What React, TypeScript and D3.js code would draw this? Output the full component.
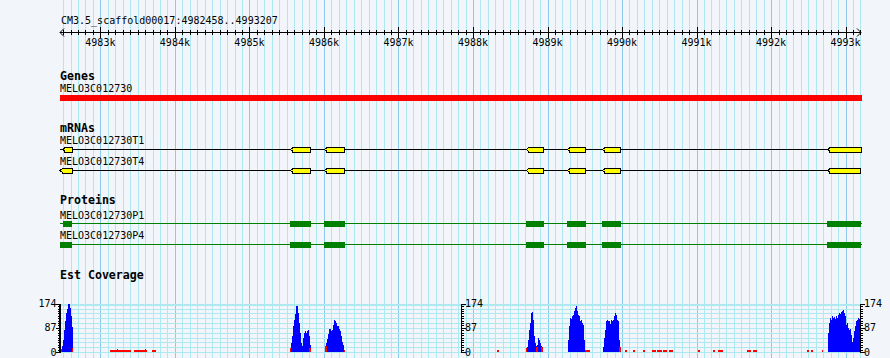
import React from "react";
import * as d3 from "d3";

// ---------- data ----------
const REGION_START = 4982458;
const REGION_END = 4993207;
const TITLE = "CM3.5_scaffold00017:4982458..4993207";
const GENE_NAME = "MELO3C012730";

// transcripts: exon intervals (bp)
const T1_NAME = "MELO3C012730T1";
const T1_EXONS: [number, number][] = [
  [4982498, 4982625], [4985550, 4985822], [4986008, 4986282],
  [4988714, 4988949], [4989270, 4989512], [4989740, 4989982], [4992762, 4993207],
];
const T4_NAME = "MELO3C012730T4";
const T4_EXONS: [number, number][] = [
  [4982458, 4982625], [4985550, 4985822], [4986008, 4986282],
  [4988714, 4988949], [4989270, 4989512], [4989740, 4989982], [4992762, 4993195],
];
// proteins: CDS intervals (bp)
const P1_NAME = "MELO3C012730P1";
const P1_CDS: [number, number][] = [
  [4982498, 4982625], [4985545, 4985822], [4986001, 4986282],
  [4988707, 4988949], [4989261, 4989512], [4989731, 4989982], [4992755, 4993207],
];
const P4_NAME = "MELO3C012730P4";
const P4_CDS: [number, number][] = [
  [4982458, 4982625], [4985545, 4985822], [4986001, 4986282],
  [4988707, 4988949], [4989261, 4989512], [4989731, 4989982], [4992755, 4993207],
];

// EST coverage (blue): bin width in bp, peak start and per-bin values
const COV_MAX = 174;
const COV_BIN = 13.42;
const PEAK_STARTS = [4982485, 4985554, 4986014, 4988725, 4989271, 4989741, 4992760];
const PEAK_VALUES: number[][] = [
  [20, 45, 80, 110, 140, 155, 174, 174, 160, 130, 90],
  [34, 56, 92, 116, 138, 167, 167, 140, 104, 68, 31, 22, 50, 70, 74, 70, 74, 80, 56, 25],
  [10, 31, 46, 65, 82, 82, 77, 80, 98, 116, 110, 104, 94, 92, 82, 74, 56, 37, 25, 7],
  [17, 43, 80, 104, 140, 144, 116, 56, 31, 20, 25, 50, 43, 31, 20, 15],
  [43, 92, 122, 118, 128, 134, 146, 158, 164, 146, 134, 128, 110, 116, 104, 98, 43, 7],
  [17, 50, 80, 110, 116, 110, 112, 100, 116, 110, 116, 128, 140, 134, 116, 110, 43],
  [68, 104, 122, 116, 128, 122, 126, 118, 128, 122, 134, 140, 138, 143, 146, 150, 140, 128,
    98, 104, 86, 80, 82, 62, 37, 50, 74, 92, 110, 116, 122, 118, 92],
];
// secondary coverage (red): [start, end, value]
const RED_SEGMENTS: [number, number, number][] = [
  [4982471, 4982485, 10], [4982619, 4982632, 14],
  [4983129, 4983223, 8], [4983223, 4983236, 12], [4983236, 4983411, 8],
  [4983451, 4983599, 8], [4983599, 4983612, 12], [4983612, 4983625, 8],
  [4983693, 4983746, 8],
  [4985544, 4985558, 14], [4985799, 4985826, 14],
  [4986014, 4986041, 20], [4986269, 4986282, 9],
  [4988322, 4988349, 8],
  [4988711, 4988725, 14], [4988845, 4988872, 18], [4988912, 4988939, 18],
  [4989503, 4989570, 8], [4989959, 4989986, 18],
  [4990040, 4990067, 8], [4990148, 4990174, 8], [4990282, 4990308, 8],
  [4990402, 4990456, 9], [4990469, 4990536, 9], [4990550, 4990603, 9], [4990630, 4990684, 8],
  [4991019, 4991046, 8], [4991221, 4991248, 8], [4991288, 4991355, 8],
  [4991677, 4991731, 8], [4991757, 4991811, 8],
  [4992482, 4992509, 8], [4992536, 4992563, 8], [4992683, 4992697, 8],
];
const COV_TICK_LABELS = [0, 87, 174];

// ---------- styles ----------
const W = 890;
const H = 358;
const BG = "#F2F6FA";
const GRID_MINOR = "#AEE9F2";
const GRID_MAJOR = "#8DCAEA";
const MONO = "'DejaVu Sans Mono', 'Liberation Mono', monospace";

export default function App() {
  const x = d3.scaleLinear().domain([REGION_START, REGION_END]).range([60, 861]);
  const covTop = 303.7;
  const covBase = 352;
  const y = d3.scaleLinear().domain([0, COV_MAX]).range([covBase, covTop]);

  const minorTicks = d3.range(Math.ceil(REGION_START / 100) * 100, REGION_END + 1, 100);
  const majorTicks = minorTicks.filter((t) => t % 1000 === 0);

  const exonPoly = (s: number, e: number, yc: number) => {
    const x0 = x(s), x1 = x(e);
    const h = 2.5;
    return `M${x0},${yc} L${x0 + 2},${yc - h + 1} L${x0 + 2},${yc - h} L${x1},${yc - h} L${x1},${yc + h} L${x0 + 2},${yc + h} L${x0 + 2},${yc + h - 1} Z`;
  };

  const area = d3
    .area<[number, number]>()
    .x((d) => x(d[0]))
    .y0(covBase)
    .y1((d) => y(d[1]))
    .curve(d3.curveStepAfter);

  const peakPaths = PEAK_STARTS.map((s, i) => {
    const vals = PEAK_VALUES[i];
    const pts: [number, number][] = vals.map((v, j) => [s + j * COV_BIN, v]);
    pts.push([s + vals.length * COV_BIN, vals[vals.length - 1]]);
    return area(pts) || "";
  });

  const covGrid = d3.range(0, 11).map((i) => (COV_MAX * i) / 10);
  const axisTicks = d3.range(0, 21).map((i) => (COV_MAX * i) / 20);
  const axes = [
    { ax: 60, side: -1 },
    { ax: 461.5, side: 1 },
    { ax: 860.5, side: 1 },
  ];

  const label = (t: string, yy: number, bold = false) => (
    <text
      x={60}
      y={yy}
      fontFamily={MONO}
      fontSize={bold ? 11.6 : 10}
      fontWeight={bold ? "bold" : "normal"}
      fill="#000"
    >
      {t}
    </text>
  );

  return (
    <svg
      width={W}
      height={H}
      style={{ position: "absolute", left: 0, top: 0, background: BG }}
      shapeRendering="crispEdges"
    >
      <rect x={0} y={0} width={W} height={H} fill={BG} />
      {/* vertical grid */}
      {minorTicks.map((t) => (
        <line key={"g" + t} x1={Math.round(x(t)) + 0.5} x2={Math.round(x(t)) + 0.5} y1={0} y2={H}
          stroke={t % 1000 === 0 ? GRID_MAJOR : GRID_MINOR} strokeWidth={1} />
      ))}
      {/* ruler */}
      <text x={61} y={24} fontFamily={MONO} fontSize={10}>{TITLE}</text>
      <line x1={60} x2={861} y1={32.5} y2={32.5} stroke="#000" />
      <path d="M64,28.5 L60,32.5 L64,36.5" fill="none" stroke="#000" shapeRendering="auto" />
      <path d="M857,28.5 L861,32.5 L857,36.5" fill="none" stroke="#000" shapeRendering="auto" />
      {minorTicks.map((t) => {
        const xx = Math.round(x(t)) + 0.5;
        const major = t % 1000 === 0;
        return <line key={"t" + t} x1={xx} x2={xx} y1={major ? 27 : 30} y2={major ? 38 : 35} stroke="#000" />;
      })}
      {majorTicks.map((t) => (
        <text key={"l" + t} x={x(t)} y={46} textAnchor="middle" fontFamily={MONO} fontSize={10}>
          {`${t / 1000}k`}
        </text>
      ))}

      {/* Genes */}
      {label("Genes", 80, true)}
      {label(GENE_NAME, 92)}
      <rect x={x(REGION_START)} y={95} width={x(REGION_END) - x(REGION_START) + 1} height={6} fill="#FF0000" />

      {/* mRNAs */}
      {label("mRNAs", 132, true)}
      {label(T1_NAME, 144)}
      <line x1={60} x2={862} y1={149.5} y2={149.5} stroke="#000" />
      {T1_EXONS.map(([s, e], i) => (
        <path key={"e1" + i} d={exonPoly(s, e, 149.5)} fill="#FFFF00" stroke="#000" strokeWidth={1} />
      ))}
      {label(T4_NAME, 165)}
      <line x1={60} x2={861} y1={170.5} y2={170.5} stroke="#000" />
      {T4_EXONS.map(([s, e], i) => (
        <path key={"e4" + i} d={exonPoly(s, e, 170.5)} fill="#FFFF00" stroke="#000" strokeWidth={1} />
      ))}

      {/* Proteins */}
      {label("Proteins", 203.5, true)}
      {label(P1_NAME, 218.5)}
      <line x1={60} x2={862} y1={223.5} y2={223.5} stroke="#008000" />
      {P1_CDS.map(([s, e], i) => (
        <rect key={"p1" + i} x={x(s)} y={221} width={x(e) - x(s)} height={6} fill="#008000" />
      ))}
      {label(P4_NAME, 239)}
      <line x1={60} x2={862} y1={244.5} y2={244.5} stroke="#008000" />
      {P4_CDS.map(([s, e], i) => (
        <rect key={"p4" + i} x={x(s)} y={242} width={x(e) - x(s)} height={6} fill="#008000" />
      ))}

      {/* Est Coverage */}
      {label("Est Coverage", 279, true)}
      {covGrid.map((v) => (
        <line key={"cg" + v} x1={60} x2={861} y1={Math.round(y(v)) + 0.5} y2={Math.round(y(v)) + 0.5}
          stroke={GRID_MINOR} strokeWidth={v === COV_MAX ? 2 : 1} />
      ))}
      {peakPaths.map((d, i) => (
        <path key={"pk" + i} d={d} fill="#0000FF" />
      ))}
      {RED_SEGMENTS.map(([s, e, v], i) => (
        <rect key={"r" + i} x={x(s)} y={y(v)} width={Math.max(1, x(e) - x(s))} height={covBase - y(v)} fill="#FF0000" />
      ))}
      {axes.map(({ ax, side }, k) => (
        <g key={"ax" + k}>
          <line x1={ax} x2={ax} y1={y(COV_MAX)} y2={y(0) + 1} stroke="#000" strokeWidth={1.5} />
          {axisTicks.map((v, j) => {
            const major = j % 10 === 0;
            const yy = Math.round(y(v)) + 0.5;
            return <line key={j} x1={ax} x2={ax + side * (major ? 4 : 2.5)} y1={yy} y2={yy} stroke="#000" />;
          })}
          {COV_TICK_LABELS.map((v) => (
            <text key={"cl" + v} x={side < 0 ? ax - 3.5 : ax + 3.5} y={y(v) + 3.5}
              textAnchor={side < 0 ? "end" : "start"} fontFamily={MONO} fontSize={10}>
              {v}
            </text>
          ))}
        </g>
      ))}
    </svg>
  );
}
